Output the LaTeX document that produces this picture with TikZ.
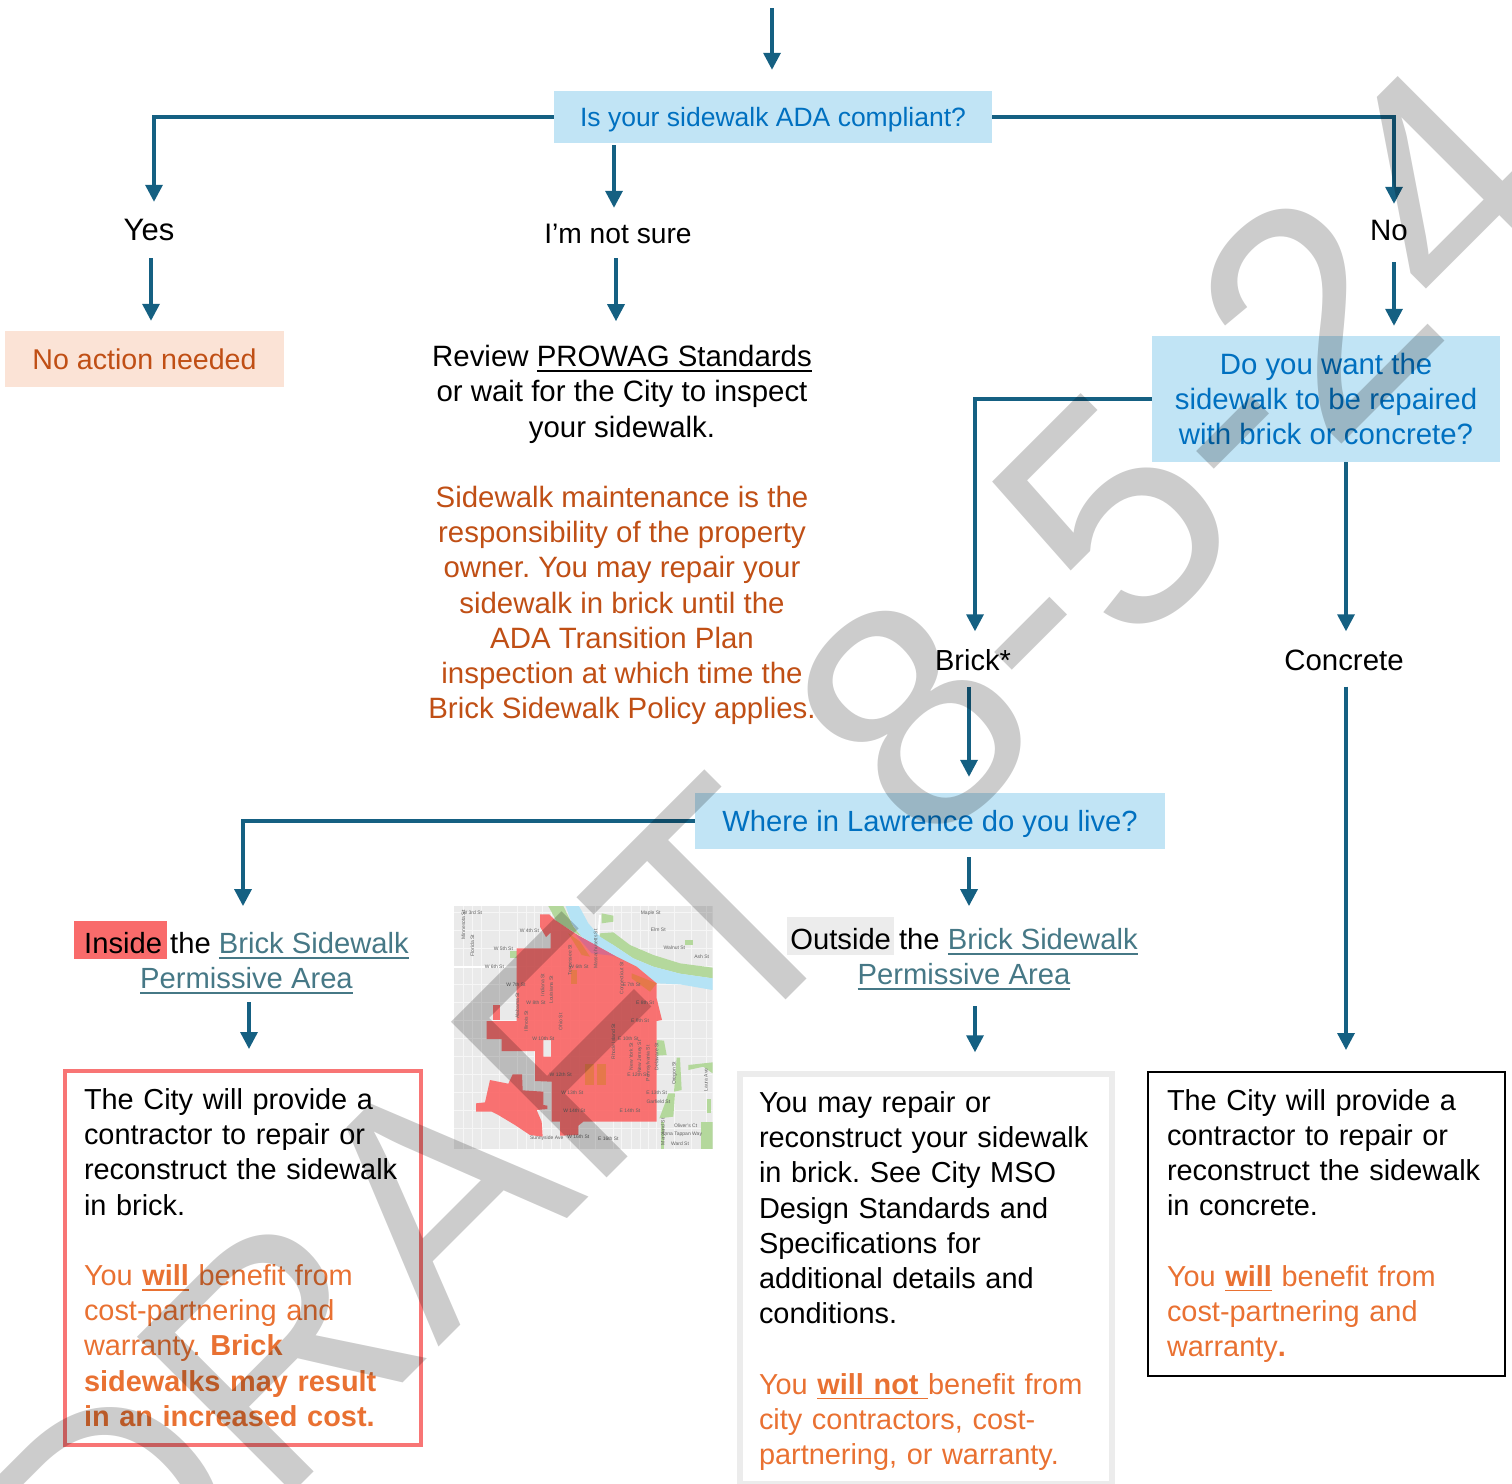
\documentclass[tikz,border=0pt]{standalone}
\usepackage{fontspec}
\setmainfont{Liberation Sans}
\usetikzlibrary{arrows.meta}

\definecolor{flowblue}{HTML}{156082}
\definecolor{askfill}{HTML}{C1E4F5}
\definecolor{asktext}{HTML}{0070C0}
\definecolor{warmfill}{HTML}{FBE3D6}
\definecolor{warmtext}{HTML}{C04F15}
\definecolor{orangetext}{HTML}{E97132}
\definecolor{linktext}{HTML}{467886}
\definecolor{redmark}{HTML}{F96B6B}
\definecolor{redline}{HTML}{F87575}
\definecolor{greyline}{HTML}{ECECEC}
\definecolor{mapbase}{HTML}{EAEAEA}
\definecolor{mapstreet}{HTML}{F6F6F6}
\definecolor{mapgreen}{HTML}{B4D89C}
\definecolor{mapriver}{HTML}{B5E3F5}
\definecolor{mapred}{HTML}{FB5C5C}
\definecolor{maporange}{HTML}{E5784A}
\definecolor{mappink}{HTML}{D96A8A}

\newcommand{\uline}[1]{\leavevmode\setbox0=\hbox{#1}\rlap{\vrule width\wd0 height -3.5pt depth 5.1pt}\box0}
\newcommand{\plink}[1]{\textcolor{linktext}{\uline{#1}}}

\tikzset{
  sized/.style={font=\fontsize{#1}{35.2}\selectfont\frenchspacing},
  bodytext/.style={inner sep=0pt,sized=29,align=center},
  answer/.style={bodytext,text height=21pt,text depth=0pt},
  askbox/.style={bodytext,fill=askfill,text=asktext},
  outcome/.style={bodytext,sized=28.9,align=left,line width=#1,inner xsep=0pt,inner ysep=0pt},
  flow/.style={draw=flowblue,line width=3.4pt,-{Triangle[length=17pt,width=17pt]}},
  street/.style={inner sep=0pt,font=\fontsize{5}{6}\selectfont,text=black!62},
  vstreet/.style={street,rotate=90},
}

\begin{document}
\begin{tikzpicture}[x=1pt,y=-1pt]
\useasboundingbox (0,0) rectangle (1512,1483);

% map
\begin{scope}[shift={(440,895)},x=0.33333pt,y=-0.33333pt]
\clip (42,33) rectangle (818,762);
\fill[mapbase] (42,33) rectangle (818,762);
\foreach \yy in {52,106,160,214,268,322,376,430,484,538,592,646,700}
  \draw[mapstreet,line width=.6pt] (42,\yy) -- (818,\yy);
\foreach \xx in {70,97,124,178,232,258,283,308,333,362,390,417,467,520,545,573,600,625,650,703,755,798}
  \draw[mapstreet,line width=.6pt] (\xx,33) -- (\xx,762);
\draw[white,line width=2pt] (42,215) -- (230,215);
\draw[white,line width=2pt] (480,60) -- (470,190);
\fill[mapgreen] (325,33) -- (370,33) -- (400,95) -- (425,125) -- (350,80) -- cycle;
\fill[mapgreen] (485,55) -- (520,62) -- (520,80) -- (485,85) -- cycle;
\fill[mapgreen] (480,115) -- (520,112) -- (570,150) -- (640,180) -- (720,205) -- (818,218) -- (818,250) -- (720,236) -- (640,215) -- (580,190) -- (520,150) -- (478,128) -- cycle;
\fill[mapriver] (377,33) -- (417,33) -- (445,85) -- (480,125) -- (520,150) -- (580,190) -- (640,215) -- (720,236) -- (818,250) -- (818,285) -- (720,268) -- (650,265) -- (590,215) -- (520,185) -- (425,125) -- (395,85) -- cycle;
\fill[mapgreen] (735,135) -- (760,135) -- (760,150) -- (735,150) -- cycle;
\fill[mapgreen] (210,168) -- (232,168) -- (232,190) -- (210,190) -- cycle;
\fill[mapgreen] (650,435) -- (672,437) -- (680,480) -- (650,482) -- cycle;
\fill[mapgreen] (710,488) -- (720,488) -- (725,585) -- (702,590) -- cycle;
\fill[mapgreen] (745,510) -- (818,502) -- (818,535) -- (790,515) -- (745,525) -- cycle;
\fill[mapgreen] (685,595) -- (705,595) -- (700,665) -- (658,670) -- (675,625) -- cycle;
\fill[mapgreen] (782,680) -- (818,680) -- (818,762) -- (782,762) -- cycle;
\fill[mapgreen] (662,680) -- (672,680) -- (672,762) -- (662,762) -- cycle;
\fill[mapgreen] (800,612) -- (812,612) -- (812,655) -- (800,655) -- cycle;

% permissive area
\fill[mapred,opacity=.85,even odd rule] (300,58) -- (328,58) -- (345,75) -- (420,125) -- (520,180) -- (590,215) -- (650,265) -- (650,310) -- (666,375) -- (650,378) -- (650,680) -- (430,680) -- (415,692) -- (415,720) -- (360,722) -- (360,680) -- (335,680) -- (335,560) -- (285,558) -- (285,468) -- (185,468) -- (185,432) -- (140,432) -- (140,378) -- (230,378) -- (230,160) -- (332,160) -- (332,112) -- (318,126) -- (300,95) -- cycle
  (310,435) rectangle (333,485);
\fill[mapred,opacity=.85] (160,330) rectangle (180,375);
\fill[mapred,opacity=.85] (150,555) -- (205,566) -- (218,538) -- (246,538) -- (248,586) -- (310,590) -- (310,630) -- (322,632) -- (322,642) -- (290,645) -- (305,680) -- (308,725) -- (270,720) -- (225,690) -- (175,660) -- (155,650) -- (108,650) -- (108,625) -- (135,622) -- cycle;
\fill[mappink] (405,116) -- (470,152) -- (525,183) -- (455,175) -- (425,140) -- cycle;
\fill[maporange] (435,508) rectangle (463,570);
\fill[maporange] (470,508) rectangle (498,570);
\fill[maporange] (392,225) rectangle (410,268);
\fill[maporange] (575,235) -- (650,265) -- (630,290) -- (575,250) -- cycle;
\fill[maporange] (385,115) -- (420,140) -- (450,185) -- (425,180) -- cycle;

\node[street] (w3rd) at (97,52) {W 3rd St};
\node[street] (w4th) at (268,106) {W 4th St};
\node[street] (w5th) at (190,160) {W 5th St};
\node[street] (w6th) at (163,214) {W 6th St};
\node[street] (w6thb) at (417,215) {W 6th St};
\node[street] (w7th) at (228,268) {W 7th St};
\node[street] (w8th) at (288,322) {W 8th St};
\node[street] (w10th) at (310,430) {W 10th St};
\node[street] (w12th) at (362,538) {W 12th St};
\node[street] (w13th) at (397,592) {W 13th St};
\node[street] (w14th) at (403,646) {W 14th St};
\node[street] (w16th) at (415,726) {W 16th St};
\node[street] (e16th) at (505,730) {E 16th St};
\node[street] (sunny) at (320,730) {Sunnyside Ave};
\node[street] (maple) at (632,54) {Maple St};
\node[street] (elm) at (655,105) {Elm St};
\node[street] (walnut) at (703,158) {Walnut St};
\node[street] (ash) at (785,184) {Ash St};
\node[street] (e7th) at (575,270) {E 7th St};
\node[street] (e8th) at (615,323) {E 8th St};
\node[street] (e9th) at (600,377) {E 9th St};
\node[street] (e10th) at (565,430) {E 10th St};
\node[street] (e12th) at (593,538) {E 12th St};
\node[street] (e13th) at (650,592) {E 13th St};
\node[street] (garfield) at (655,620) {Garfield St};
\node[street] (e14th) at (570,646) {E 14th St};
\node[street] (oliver) at (737,692) {Oliver's Ct};
\node[street] (anna) at (725,717) {Anna Tappan Way};
\node[street] (ward) at (720,746) {Ward St};
\node[vstreet] (tenn) at (390,195) {Tennessee St};
\node[vstreet] (mass) at (467,162) {Massachusetts St};
\node[vstreet] (conn) at (545,250) {Connecticut St};
\node[vstreet] (rhode) at (520,440) {Rhode Island St};
\node[vstreet] (newyork) at (573,485) {New York St};
\node[vstreet] (newjersey) at (600,485) {New Jersey St};
\node[vstreet] (penn) at (625,505) {Pennsylvania St};
\node[vstreet] (delaware) at (650,485) {Delaware St};
\node[vstreet] (indiana) at (308,270) {Indiana St};
\node[vstreet] (louisiana) at (333,285) {Louisiana St};
\node[vstreet] (ohio) at (362,380) {Ohio St};
\node[vstreet] (alabama) at (232,332) {Alabama St};
\node[vstreet] (illinois) at (258,378) {Illinois St};
\node[vstreet] (minnesota) at (70,90) {Minnesota St};
\node[vstreet] (florida) at (97,152) {Florida St};
\node[vstreet] (oregon) at (703,535) {Oregon St};
\node[vstreet] (laura) at (798,555) {Laura Ave};
\node[vstreet] (maryland) at (670,710) {Maryland St};
\end{scope}

% questions
\node[askbox,sized=26.5,text height=21pt,text depth=3pt,minimum width=438pt,minimum height=52pt] (ada) at (773,117) {Is your sidewalk ADA compliant?};
\node[askbox,sized=29.4,minimum width=348pt,minimum height=126pt] (repair) at (1326,399) {Do you want the\\sidewalk to be repaired\\with brick or concrete?};
\node[askbox,sized=29.2,text height=25pt,text depth=4pt,minimum width=470pt,minimum height=56pt] (where) at (930,821) {Where in Lawrence do you live?};

% answers
\node[answer,sized=31] (yes) at (149,230) {Yes};
\node[answer,sized=28.2] (unsure) at (618,233) {I’m not sure};
\node[answer,sized=29.5] (no) at (1389,230) {No};
\node[bodytext,sized=28.6,fill=warmfill,text=warmtext,minimum width=279pt,minimum height=56pt] (noaction) at (144.5,359) {No action needed};
\node[bodytext,sized=29.4] (review) at (622,535) {Review \uline{PROWAG Standards}\\or wait for the City to inspect\\your sidewalk.\\[35.2pt]
  \textcolor{warmtext}{Sidewalk maintenance is the}\\\textcolor{warmtext}{responsibility of the property}\\\textcolor{warmtext}{owner. You may repair your}\\\textcolor{warmtext}{sidewalk in brick until the}\\\textcolor{warmtext}{ADA Transition Plan}\\\textcolor{warmtext}{inspection at which time the}\\\textcolor{warmtext}{Brick Sidewalk Policy applies.}};
\node[answer] (brick) at (973,659.5) {Brick*};
\node[answer,sized=29.4] (concrete) at (1344,659.5) {Concrete};

\fill[redmark] (74,921) rectangle (167,959);
\fill[greyline] (787,917) rectangle (894,955);
\node[bodytext,sized=29.2] (inside) at (246.5,963) {Inside the \plink{Brick Sidewalk}\\\plink{Permissive Area}};
\node[bodytext,sized=29.2] (outside) at (964,959) {Outside the \plink{Brick Sidewalk}\\\plink{Permissive Area}};

% outcomes
\node[outcome=4pt,draw=redline,text width=318pt,minimum width=356pt,minimum height=374pt] (cityinbrick) at (243,1258) {The City will provide a\\contractor to repair or\\reconstruct the sidewalk\\in brick.\\[35.2pt]
  \textcolor{orangetext}{You \textbf{\uline{will}} benefit from}\\\textcolor{orangetext}{cost-partnering and}\\\textcolor{orangetext}{warranty. \textbf{Brick}}\\\textcolor{orangetext}{\textbf{sidewalks may result}}\\\textcolor{orangetext}{\textbf{in an increased cost.}}\rule[-1pt]{0pt}{1pt}};
\node[outcome=5.5pt,draw=greyline,text width=334pt,minimum width=372pt,minimum height=410pt] (mayrepair) at (926,1279) {\rule{0pt}{25pt}You may repair or\\reconstruct your sidewalk\\in brick. See City MSO\\Design Standards and\\Specifications for\\additional details and\\conditions.\\[35.2pt]
  \textcolor{orangetext}{You \textbf{\uline{will not }}benefit from}\\\textcolor{orangetext}{city contractors, cost-}\\\textcolor{orangetext}{partnering, or warranty.}};
\node[outcome=2pt,draw=black,text width=319pt,minimum width=357pt,minimum height=304pt] (cityconcrete) at (1326.5,1224) {\rule{0pt}{25pt}The City will provide a\\contractor to repair or\\reconstruct the sidewalk\\in concrete.\\[35.2pt]
  \textcolor{orangetext}{You \textbf{\uline{will}} benefit from}\\\textcolor{orangetext}{cost-partnering and}\\\textcolor{orangetext}{warranty\textbf{.}}};

% connectors
\coordinate (start) at (772,8);
\draw[flow,shorten >=21pt] (start) -- (start |- ada.north);
\draw[flow] (ada.west) -| ([xshift=5pt,yshift=17.5pt]yes.north);
\draw[flow] ([xshift=-4pt,yshift=-2pt]unsure.north |- ada.south) -- ([xshift=-4pt,yshift=14.5pt]unsure.north);
\draw[flow] (ada.east) -| ([xshift=5pt,yshift=15.5pt]no.north);
\draw[flow] ([xshift=2pt,yshift=-17.5pt]yes.south) -- ([xshift=6.5pt,yshift=10pt]noaction.north);
\draw[flow] ([xshift=-2pt,yshift=-14.5pt]unsure.south) -- ([xshift=-2pt,yshift=-77.5pt]unsure.south);
\draw[flow] ([xshift=5pt,yshift=-21.5pt]no.south) -- ([xshift=68pt,yshift=10pt]repair.north);
\draw[flow] (repair.west) -| ([xshift=2pt,yshift=17.5pt]brick.north);
\draw[flow] ([xshift=20pt]repair.south) -- ([xshift=2pt,yshift=17.5pt]concrete.north);
\draw[flow] ([xshift=-4pt,yshift=-16.5pt]brick.south) -- ([xshift=39pt,yshift=16pt]where.north);
\draw[flow] ([xshift=2pt,yshift=-16.5pt]concrete.south) -- ([xshift=19.5pt,yshift=21pt]cityconcrete.north);
\draw[flow] (where.west) -| ([xshift=-3.5pt,yshift=26pt]inside.north);
\draw[flow] ([xshift=39pt,yshift=-8pt]where.south) -- ([xshift=5pt,yshift=22pt]outside.north);
\draw[flow] ([xshift=2.5pt,yshift=-8.5pt]inside.south) -- ([xshift=6pt,yshift=20pt]cityinbrick.north);
\draw[flow] ([xshift=11pt,yshift=-16.5pt]outside.south) -- ([xshift=49pt,yshift=19pt]mayrepair.north);

% watermark
\node[inner sep=0pt,rotate=45,text=black,text opacity=.2,font=\fontsize{320}{320}\selectfont] (draftmark) at (769,861) {DRAFT 8-5-24};
\end{tikzpicture}
\end{document}
